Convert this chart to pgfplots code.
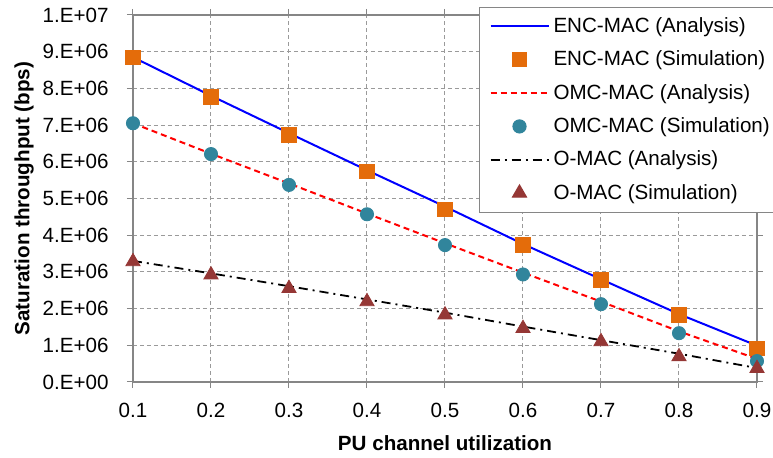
\documentclass[border=0pt]{standalone}
\usepackage{fontspec}
\setmainfont{Liberation Sans}
\usepackage{pgfplots}
\pgfplotsset{compat=1.18}
\definecolor{encorange}{HTML}{E46C0A}
\definecolor{omcteal}{HTML}{31859C}
\definecolor{omacred}{HTML}{953735}
\definecolor{axgray}{HTML}{868686}
\definecolor{gridgray}{HTML}{9A9A9A}
\begin{document}
\begin{tikzpicture}
\useasboundingbox (-66.5pt,-38pt) rectangle (320pt,191pt);
\begin{axis}[
  scale only axis=true,
  width=312pt, height=183.5pt,
  xmin=0.1, xmax=0.9, ymin=0, ymax=1e7,
  xtick={0.1,0.2,0.3,0.4,0.5,0.6,0.7,0.8,0.9},
  xticklabels={0.1,0.2,0.3,0.4,0.5,0.6,0.7,0.8,0.9},
  ytick={0,1e6,2e6,3e6,4e6,5e6,6e6,7e6,8e6,9e6,1e7},
  yticklabels={0.E+00,1.E+06,2.E+06,3.E+06,4.E+06,5.E+06,6.E+06,7.E+06,8.E+06,9.E+06,1.E+07},
  scaled y ticks=false,
  /pgf/number format/assume math mode=true,
  tick align=outside, major tick length=3pt,
  tick style={axgray, line width=0.5pt},
  axis line style={axgray, line width=0.6pt},
  grid=major,
  major grid style={gridgray, line width=0.5pt, dash pattern=on 2pt off 1.5pt},
  yticklabel style={font=\fontsize{10.3}{12}\selectfont, anchor=east, inner sep=0pt, xshift=-9pt},
  xticklabel style={font=\fontsize{10.3}{12}\selectfont, anchor=north, inner sep=0pt, yshift=-7.5pt},
  xlabel={PU channel utilization},
  ylabel={Saturation throughput (bps)},
  xlabel style={font=\fontsize{10.3}{12}\selectfont\bfseries, at={(axis description cs:0.5,0)}, anchor=north, inner sep=0pt, yshift=-26.5pt},
  ylabel style={font=\fontsize{10.3}{12}\selectfont\bfseries, at={(axis description cs:-0.1747,0.5)}, anchor=center, inner sep=0pt},
  legend style={at={(0.5545,1.0218)}, anchor=north west, draw=axgray, line width=0.5pt, fill=white,
     font=\fontsize{10.3}{12}\selectfont, row sep=3.7pt, inner xsep=5pt, inner ysep=3pt,
     /tikz/every even column/.append style={column sep=0pt}},
  legend cell align=left,
  legend image code/.code={\draw[mark repeat=2,mark phase=2] plot coordinates {(0pt,0pt) (14.5pt,0pt) (29pt,0pt)};},
]
\addplot[blue, line width=1pt] coordinates {
 (0.1,8850000) (0.2,7800000) (0.3,6780000) (0.4,5770000) (0.5,4780000)
 (0.6,3760000) (0.7,2800000) (0.8,1850000) (0.9,990000)};
\addlegendentry{ENC-MAC (Analysis)}
\addplot[only marks, mark=square*, mark size=3.6pt, color=encorange] coordinates {
 (0.1,8840000) (0.2,7770000) (0.3,6730000) (0.4,5730000) (0.5,4700000)
 (0.6,3730000) (0.7,2780000) (0.8,1830000) (0.9,920000)};
\addlegendentry{ENC-MAC (Simulation)}
\addplot[red, line width=1pt, dash pattern=on 3pt off 2pt] coordinates {
 (0.1,7050000) (0.2,6220000) (0.3,5410000) (0.4,4590000) (0.5,3780000)
 (0.6,2980000) (0.7,2190000) (0.8,1380000) (0.9,630000)};
\addlegendentry{OMC-MAC (Analysis)}
\addplot[only marks, mark=*, mark size=3.3pt, color=omcteal] coordinates {
 (0.1,7050000) (0.2,6210000) (0.3,5370000) (0.4,4570000) (0.5,3730000)
 (0.6,2930000) (0.7,2120000) (0.8,1330000) (0.9,570000)};
\addlegendentry{OMC-MAC (Simulation)}
\addplot[black, line width=0.9pt, dash pattern=on 4.5pt off 2.5pt on 1pt off 2.5pt] coordinates {
 (0.1,3300000) (0.2,2960000) (0.3,2610000) (0.4,2250000) (0.5,1890000)
 (0.6,1510000) (0.7,1140000) (0.8,770000) (0.9,380000)};
\addlegendentry{O-MAC (Analysis)}
\addplot[only marks, mark=triangle*, mark size=4.1pt, color=omacred] coordinates {
 (0.1,3280000) (0.2,2920000) (0.3,2550000) (0.4,2190000) (0.5,1830000)
 (0.6,1460000) (0.7,1100000) (0.8,690000) (0.9,370000)};
\addlegendentry{O-MAC (Simulation)}
\end{axis}
\end{tikzpicture}
\end{document}
